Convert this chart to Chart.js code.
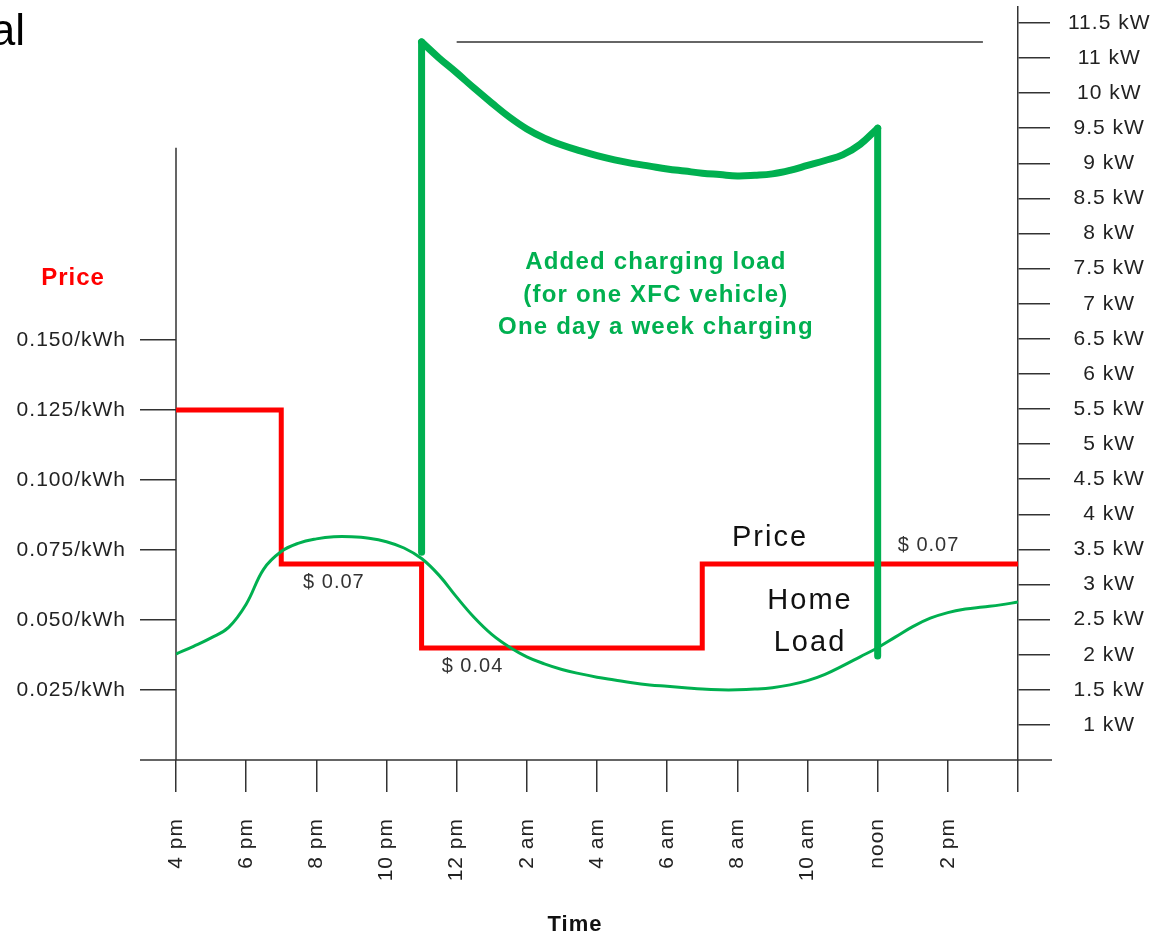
<!DOCTYPE html>
<html>
<head>
<meta charset="utf-8">
<script src="https://cdn.jsdelivr.net/npm/chart.js@4.4.1/dist/chart.umd.min.js"></script>
<style>
  html, body { margin: 0; padding: 0; background: #fff; }
  canvas { display: block; }
</style>
</head>
<body>
<canvas id="chart" width="1165" height="937"></canvas>
<script>
// Time runs in hours from 4 pm (0) to 4 pm the next day (24)
const hourTicks  = [0, 2, 4, 6, 8, 10, 12, 14, 16, 18, 20, 22, 24];
const hourLabels = ['4 pm', '6 pm', '8 pm', '10 pm', '12 pm', '2 am', '4 am', '6 am', '8 am', '10 am', 'noon', '2 pm', ''];

// Left axis: electricity price ($/kWh)
const priceTicks = [0.025, 0.05, 0.075, 0.1, 0.125, 0.15];

// Right axis: load (kW)
const kwTicks  = [1, 1.5, 2, 2.5, 3, 3.5, 4, 4.5, 5, 5.5, 6, 6.5, 7, 7.5, 8, 8.5, 9, 9.5, 10, 10.5, 11];
const kwLabels = ['1 kW', '1.5 kW', '2 kW', '2.5 kW', '3 kW', '3.5 kW', '4 kW', '4.5 kW', '5 kW', '5.5 kW',
                  '6 kW', '6.5 kW', '7 kW', '7.5 kW', '8 kW', '8.5 kW', '9 kW', '9.5 kW', '10 kW', '11 kW', '11.5 kW'];

// Time-of-use price steps (each value holds until the next hour)
const priceHours  = [0, 3, 7, 15, 24];
const priceValues = [0.125, 0.07, 0.04, 0.07, 0.07];

// Price notes placed along the step line
const priceNoteHours = [4.5, 8.45, 21.45];

// Household base load, every half hour from 4 pm to 4 pm
const homeHours = [0, 0.5, 1, 1.5, 2, 2.5, 3, 3.5, 4, 4.5, 5, 5.5, 6, 6.5, 7, 7.5, 8, 8.5, 9, 9.5,
                   10, 10.5, 11, 11.5, 12, 12.5, 13, 13.5, 14, 14.5, 15, 15.5, 16, 16.5, 17, 17.5,
                   18, 18.5, 19, 19.5, 20, 20.5, 21, 21.5, 22, 22.5, 23, 23.5, 24];
const homeKw    = [2.01, 2.12, 2.24, 2.39, 2.72, 3.22, 3.47, 3.59, 3.65, 3.68, 3.68, 3.66, 3.61, 3.52, 3.37, 3.13, 2.82, 2.53, 2.29, 2.11,
                   1.97, 1.87, 1.79, 1.73, 1.68, 1.64, 1.60, 1.57, 1.55, 1.53, 1.51, 1.50, 1.50, 1.51, 1.53, 1.57,
                   1.63, 1.72, 1.84, 1.97, 2.10, 2.25, 2.40, 2.52, 2.60, 2.65, 2.68, 2.71, 2.75];

// Added XFC charging load, every half hour from 11 pm to noon
const chargeHours = [7, 7.5, 8, 8.5, 9, 9.5, 10, 10.5, 11, 11.5, 12, 12.5, 13, 13.5,
                     14, 14.5, 15, 15.5, 16, 16.5, 17, 17.5, 18, 18.5, 19, 19.5, 20];
const chargeKw    = [10.73, 10.50, 10.29, 10.07, 9.86, 9.66, 9.49, 9.36, 9.26, 9.18, 9.11, 9.05, 9.00, 8.96,
                     8.92, 8.89, 8.86, 8.84, 8.82, 8.83, 8.85, 8.90, 8.97, 9.04, 9.12, 9.27, 9.50];
const chargeStartHours = [7, 7];
const chargeStartKw    = [3.46, 10.73];
const chargeEndHours   = [20, 20];
const chargeEndKw      = [9.50, 1.98];

// Peak reference line
const peakHours = [8, 23];
const peakKw    = [10.73, 10.73];

const FONT = "'Liberation Sans', Arial, Helvetica, sans-serif";
const GREEN = '#00b050';
const RED = '#ff0000';
const INK = '#333333';

const pts = (xs, ys) => xs.map((x, i) => ({ x, y: ys[i] }));

function priceAt(h) {
  let v = priceValues[0];
  for (let i = 0; i < priceHours.length; i++) if (priceHours[i] <= h) v = priceValues[i];
  return v;
}

function text(ctx, str, x, y, font, color, align, spacing) {
  ctx.save();
  ctx.font = font;
  ctx.fillStyle = color;
  ctx.textAlign = align || 'center';
  ctx.textBaseline = 'middle';
  ctx.letterSpacing = spacing || '0px';
  ctx.fillText(str, x, y);
  ctx.restore();
}

function noEdgePadding(s) {
  s.paddingTop = 0; s.paddingBottom = 0; s.paddingLeft = 0; s.paddingRight = 0;
}

const spacingPlugin = {
  id: 'spacing',
  beforeLayout(chart) { chart.ctx.letterSpacing = '1px'; },
  beforeDraw(chart) { chart.ctx.letterSpacing = '1px'; }
};

const axisLines = {
  id: 'axisLines',
  beforeDatasetsDraw(chart, args, opts) {
    const { ctx, chartArea } = chart;
    const yP = chart.scales.y;
    ctx.save();
    ctx.strokeStyle = INK;
    ctx.lineWidth = 1.5;
    ctx.beginPath();
    // price axis spine
    ctx.moveTo(chartArea.left, yP.getPixelForValue(0));
    ctx.lineTo(chartArea.left, yP.getPixelForValue(opts.priceTop));
    // time axis spine, running out under both tick columns
    const yb = yP.getPixelForValue(0);
    ctx.moveTo(chartArea.left - 36, yb);
    ctx.lineTo(chartArea.right + 34, yb);
    ctx.stroke();
    ctx.restore();
  }
};

const notes = {
  id: 'notes',
  afterDraw(chart) {
    const { ctx } = chart;
    const xs = chart.scales.x, yP = chart.scales.y;

    text(ctx, 'al', 25, 33, `44px ${FONT}`, '#000', 'right', '0px');
    text(ctx, 'Price', 73, 278, `bold 24px ${FONT}`, RED, 'center', '1px');

    // price notes
    const offs = [19, 18, -18];
    priceNoteHours.forEach((h, i) => {
      const v = priceAt(h);
      text(ctx, '$ ' + v.toFixed(2), xs.getPixelForValue(h), yP.getPixelForValue(v) + offs[i],
           `20px ${FONT}`, INK, 'center', '1px');
    });

    const cx = xs.getPixelForValue(13.68);
    text(ctx, 'Added charging load', cx, 262, `bold 24px ${FONT}`, GREEN, 'center', '1.2px');
    text(ctx, '(for one XFC vehicle)', cx, 295, `bold 24px ${FONT}`, GREEN, 'center', '1.2px');
    text(ctx, 'One day a week charging', cx, 327, `bold 24px ${FONT}`, GREEN, 'center', '1.2px');

    text(ctx, 'Price', 770, 538, `29px ${FONT}`, '#111', 'center', '2px');
    text(ctx, 'Home', 810, 601, `29px ${FONT}`, '#111', 'center', '2px');
    text(ctx, 'Load', 810, 643, `29px ${FONT}`, '#111', 'center', '2px');

    text(ctx, 'Time', 575, 925, `bold 22px ${FONT}`, '#111', 'center', '1px');
  }
};

Chart.defaults.font.family = FONT;

new Chart(document.getElementById('chart'), {
  type: 'line',
  data: {
    datasets: [
      { label: 'Charging rise', data: pts(chargeStartHours, chargeStartKw), yAxisID: 'y2',
        borderColor: GREEN, borderWidth: 7, borderCapStyle: 'round', borderJoinStyle: 'round', tension: 0 },
      { label: 'Charging load', data: pts(chargeHours, chargeKw), yAxisID: 'y2',
        borderColor: GREEN, borderWidth: 7, borderCapStyle: 'round', borderJoinStyle: 'round', tension: 0.4 },
      { label: 'Charging drop', data: pts(chargeEndHours, chargeEndKw), yAxisID: 'y2',
        borderColor: GREEN, borderWidth: 7, borderCapStyle: 'round', borderJoinStyle: 'round', tension: 0 },
      { label: 'Home load', data: pts(homeHours, homeKw), yAxisID: 'y2',
        borderColor: GREEN, borderWidth: 3, tension: 0.4 },
      { label: 'Price', data: pts(priceHours, priceValues), yAxisID: 'y',
        borderColor: RED, borderWidth: 5, stepped: 'before', borderJoinStyle: 'miter', borderCapStyle: 'butt' },
      { label: 'Peak', data: pts(peakHours, peakKw), yAxisID: 'y2',
        borderColor: INK, borderWidth: 1.5, tension: 0 }
    ]
  },
  options: {
    responsive: false,
    animation: false,
    layout: { padding: { top: 7, left: 0, right: 0, bottom: 0 } },
    elements: { point: { radius: 0, hoverRadius: 0 }, line: { fill: false } },
    plugins: {
      legend: { display: false },
      tooltip: { enabled: false },
      axisLines: { priceTop: 0.2186 }
    },
    scales: {
      x: {
        type: 'linear', position: 'bottom', min: 0, max: 24,
        afterBuildTicks: s => { s.ticks = hourTicks.map(v => ({ value: v })); },
        afterFit: s => { s.height = 177; noEdgePadding(s); },
        ticks: {
          autoSkip: false, minRotation: 90, maxRotation: 90, padding: 26,
          color: '#222', font: { size: 21 },
          callback: v => hourLabels[hourTicks.indexOf(v)]
        },
        grid: { drawOnChartArea: false, drawTicks: true, tickLength: 32, color: INK, lineWidth: 1.5 },
        border: { display: false }
      },
      y: {
        type: 'linear', position: 'left', min: 0, max: 0.2689,
        afterBuildTicks: s => { s.ticks = priceTicks.map(v => ({ value: v })); },
        afterFit: s => { s.width = 176; noEdgePadding(s); },
        ticks: {
          padding: 14, color: '#222', font: { size: 21 },
          callback: v => v.toFixed(3) + '/kWh'
        },
        grid: { drawOnChartArea: false, drawTicks: true, tickLength: 36, color: INK, lineWidth: 1.5 },
        border: { display: false }
      },
      y2: {
        type: 'linear', position: 'right', min: 0.5, max: 11.227,
        afterBuildTicks: s => { s.ticks = kwTicks.map(v => ({ value: v })); },
        afterFit: s => { s.width = 147; noEdgePadding(s); },
        ticks: {
          padding: 18, crossAlign: 'center', color: '#222', font: { size: 21 },
          callback: v => kwLabels[kwTicks.indexOf(v)]
        },
        grid: { drawOnChartArea: false, drawTicks: true, tickLength: 32, color: INK, lineWidth: 1.5 },
        border: { display: true, color: INK, width: 1.5 }
      }
    }
  },
  plugins: [spacingPlugin, axisLines, notes]
});
</script>
</body>
</html>
